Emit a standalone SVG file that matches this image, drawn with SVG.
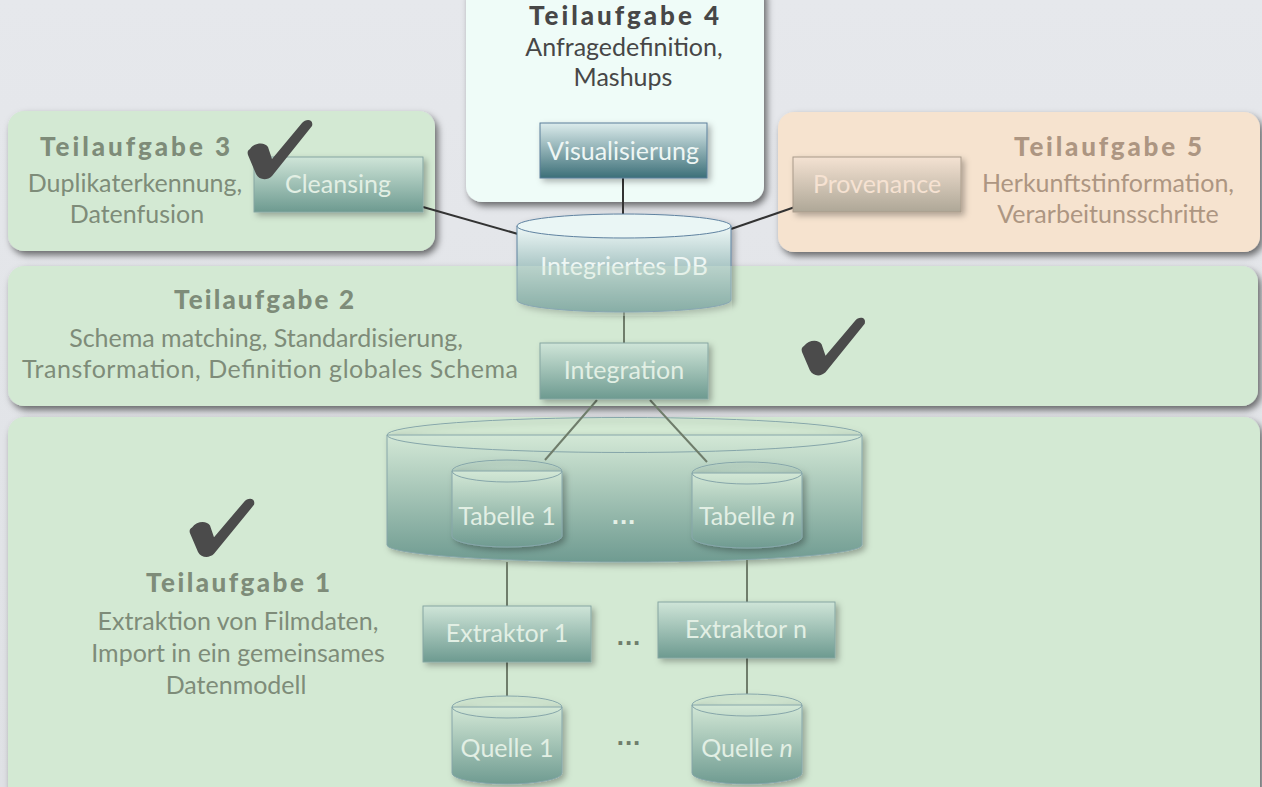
<svg xmlns="http://www.w3.org/2000/svg" xmlns:xlink="http://www.w3.org/1999/xlink" width="1262" height="787" viewBox="0 0 1262 787">
<style>
.h{font-family:Lato,"Open Sans",sans-serif;font-weight:900;font-size:26px;text-anchor:middle}
.b{font-family:Lato,"Open Sans",sans-serif;font-size:25px;text-anchor:middle}
.g{fill:#7e8c79}
.d{fill:#474747}
.p{fill:#ad9682}
.bx{font-family:Lato,"Open Sans",sans-serif;font-size:25px;text-anchor:middle;fill:#e2efe4}
.dots{font-family:"Liberation Sans",sans-serif;font-weight:bold;font-size:26px;text-anchor:middle;letter-spacing:1px}
.ln{stroke:#333;stroke-width:2;fill:none}
.lg{stroke:#6f7d6b;stroke-width:2;fill:none}
.box{fill:url(#gbox);stroke:#86a6a2;stroke-width:1}
.cyl{fill:url(#gcyl);stroke:#86a6aa;stroke-width:1}
.top{fill:none;stroke:#86a6aa;stroke-width:1}
.chk{fill:#4b4b4b}
</style>
<defs>
<linearGradient id="gbg" x1="0" y1="0" x2="0" y2="1"><stop offset="0" stop-color="#e6e8ec"/><stop offset="1" stop-color="#dfe1e5"/></linearGradient>
<linearGradient id="gbox" x1="0" y1="0" x2="0" y2="1"><stop offset="0" stop-color="#cfe5d8"/><stop offset="1" stop-color="#6d9a90"/></linearGradient>
<linearGradient id="gvis" x1="0" y1="0" x2="0" y2="1"><stop offset="0" stop-color="#dcecec"/><stop offset="1" stop-color="#3c6f78"/></linearGradient>
<linearGradient id="gprov" x1="0" y1="0" x2="0" y2="1"><stop offset="0" stop-color="#f4e2d2"/><stop offset="1" stop-color="#aea797"/></linearGradient>
<linearGradient id="gcyl" x1="0" y1="0" x2="0" y2="1"><stop offset="0" stop-color="#d3e8d6"/><stop offset="1" stop-color="#6f9b91"/></linearGradient>
<linearGradient id="gdb" x1="0" y1="0" x2="0" y2="1"><stop offset="0" stop-color="#eef8f7"/><stop offset="1" stop-color="#5f8f8e"/></linearGradient>
<filter id="sp" x="-10%" y="-10%" width="125%" height="130%"><feDropShadow dx="3" dy="4" stdDeviation="3.5" flood-color="#000" flood-opacity="0.55"/></filter>
<filter id="sb" x="-10%" y="-10%" width="130%" height="140%"><feDropShadow dx="3" dy="3" stdDeviation="3" flood-color="#000" flood-opacity="0.3"/></filter>
<path id="check" d="M2,30 C7,23 17,23 20,28 L24,40 L54,4 C58,-1 66,0 64,7 L24,57 C19,62 11,61 8,55 L0,36 C-1,33 0,31 2,30 Z"/>
</defs>
<rect width="1262" height="787" fill="url(#gbg)"/>

<g id="panel3">
<rect x="8" y="111" width="427" height="140" rx="16" fill="#d3e9d3" filter="url(#sp)"/>
<text class="h g" x="135" y="156" textLength="190" lengthAdjust="spacing">Teilaufgabe 3</text>
<text class="b g" x="135" y="192">Duplikaterkennung,</text>
<text class="b g" x="137" y="223">Datenfusion</text>
</g>
<g id="panel4">
<rect x="466" y="-20" width="298" height="222" rx="16" fill="#effcf8" filter="url(#sp)"/>
<text class="h d" x="624" y="25" textLength="190" lengthAdjust="spacing">Teilaufgabe 4</text>
<text class="b d" x="624" y="56">Anfragedefinition,</text>
<text class="b d" x="623" y="86">Mashups</text>
</g>
<g id="panel5">
<rect x="778" y="112" width="482" height="140" rx="16" fill="#f6e3cf" filter="url(#sp)"/>
<text class="h p" x="1108" y="156" textLength="188" lengthAdjust="spacing">Teilaufgabe 5</text>
<text class="b p" x="1108" y="192">Herkunftstinformation,</text>
<text class="b p" x="1108" y="223">Verarbeitunsschritte</text>
</g>
<g id="panel2">
<rect x="8" y="266" width="1250" height="140" rx="16" fill="#d3e9d3" filter="url(#sp)"/>
<text class="h g" x="264" y="309" textLength="180" lengthAdjust="spacing">Teilaufgabe 2</text>
<text class="b g" x="266" y="347">Schema matching, Standardisierung,</text>
<text class="b g" x="270" y="378" textLength="496" lengthAdjust="spacing">Transformation, Definition globales Schema</text>
</g>
<g id="panel1">
<rect x="8" y="417" width="1252" height="390" rx="16" fill="#d3e9d3" filter="url(#sp)"/>
<text class="h g" x="238" y="592" textLength="184" lengthAdjust="spacing">Teilaufgabe 1</text>
<text class="b g" x="238" y="630">Extraktion von Filmdaten,</text>
<text class="b g" x="238" y="662">Import in ein gemeinsames</text>
<text class="b g" x="236" y="694">Datenmodell</text>
</g>

<g id="datenbank" filter="url(#sb)">
<path class="cyl" d="M387,435 L387,545 A237.5,17 0 0 0 862,545 L862,435 Z"/>
<ellipse class="top" cx="624.5" cy="435" rx="237.5" ry="17.5" fill="#cfe6d4"/>
</g>

<g id="connectors">
<line class="ln" x1="623" y1="178" x2="623" y2="215"/>
<line class="ln" x1="423" y1="207" x2="518" y2="234"/>
<line class="ln" x1="731" y1="229" x2="795" y2="207"/>
<line class="lg" x1="624" y1="312" x2="624" y2="343"/>
<line class="lg" x1="597" y1="400" x2="545" y2="460"/>
<line class="lg" x1="650" y1="400" x2="707" y2="462"/>
<line class="lg" x1="507" y1="562" x2="507" y2="606"/>
<line class="lg" x1="747" y1="560" x2="747" y2="602"/>
<line class="lg" x1="507" y1="662" x2="507" y2="696"/>
<line class="lg" x1="747" y1="658" x2="747" y2="694"/>
</g>

<g id="cleansing">
<rect x="254" y="157" width="169" height="55" fill="url(#gbox)" stroke="#86a6a2" filter="url(#sb)"/>
<text class="bx" x="338" y="193">Cleansing</text>
</g>
<g id="visualisierung">
<rect x="540" y="123" width="167" height="55" fill="url(#gvis)" stroke="#5b7f9a" filter="url(#sb)"/>
<text class="bx" x="623" y="160" style="fill:#eef6f4">Visualisierung</text>
</g>
<g id="provenance">
<rect x="793" y="157" width="168" height="55" fill="url(#gprov)" stroke="#a89a8a" filter="url(#sb)"/>
<text class="bx" x="877" y="193" style="fill:#f6e2d2">Provenance</text>
</g>
<g id="integriertesdb">
<g filter="url(#sb)">
<path d="M517,226 L517,300 A107,12 0 0 0 731,300 L731,226 Z" fill="url(#gdb)" stroke="#5f82a0"/>
<ellipse cx="624" cy="226" rx="107" ry="12" fill="#eaf6f5" stroke="#5f82a0"/>
</g>
<text class="bx" x="624" y="275" style="fill:#eef6f4">Integriertes DB</text>
<rect x="516" y="266" width="216" height="50" fill="#d3e9d3" opacity="0.35"/>
</g>
<g id="integration">
<rect x="540" y="343" width="168" height="56" class="box" filter="url(#sb)"/>
<text class="bx" x="624" y="379">Integration</text>
</g>

<g id="tabelle1">
<g filter="url(#sb)"><path class="cyl" d="M452,471 L452,536 A55,11 0 0 0 562,536 L562,471 Z"/><ellipse class="top" cx="507" cy="471" rx="55" ry="11" fill="#d2e8d6"/></g>
<text class="bx" x="507" y="525">Tabelle 1</text>
</g>
<g id="tabellen">
<g filter="url(#sb)"><path class="cyl" d="M692,473 L692,537 A55,11 0 0 0 802,537 L802,473 Z"/><ellipse class="top" cx="747" cy="473" rx="55" ry="11" fill="#d2e8d6"/></g>
<text class="bx" x="747" y="525">Tabelle <tspan font-style="italic">n</tspan></text>
</g>
<text class="dots" x="624" y="524" fill="#e4f0e6">...</text>

<g id="extraktor1">
<rect x="423" y="606" width="168" height="56" class="box" filter="url(#sb)"/>
<text class="bx" x="507" y="642">Extraktor 1</text>
</g>
<g id="extraktorn">
<rect x="658" y="602" width="177" height="56" class="box" filter="url(#sb)"/>
<text class="bx" x="746" y="638">Extraktor n</text>
</g>
<text class="dots" x="629" y="645" fill="#6f7d6b">...</text>

<g id="quelle1">
<g filter="url(#sb)"><path class="cyl" d="M452,707 L452,773 A55,11 0 0 0 562,773 L562,707 Z"/><ellipse class="top" cx="507" cy="707" rx="55" ry="11" fill="#d2e8d6"/></g>
<text class="bx" x="507" y="757">Quelle 1</text>
</g>
<g id="quellen">
<g filter="url(#sb)"><path class="cyl" d="M692,705 L692,773 A55,11 0 0 0 802,773 L802,705 Z"/><ellipse class="top" cx="747" cy="705" rx="55" ry="11" fill="#d2e8d6"/></g>
<text class="bx" x="747" y="757">Quelle <tspan font-style="italic">n</tspan></text>
</g>
<text class="dots" x="629" y="745" fill="#6f7d6b">...</text>

<g id="checks">
<use xlink:href="#check" class="chk" transform="translate(248,119)"/>
<use xlink:href="#check" class="chk" transform="translate(802,317) scale(0.98,0.97)"/>
<use xlink:href="#check" class="chk" transform="translate(190,498) scale(1.0,0.98)"/>
</g>
</svg>
